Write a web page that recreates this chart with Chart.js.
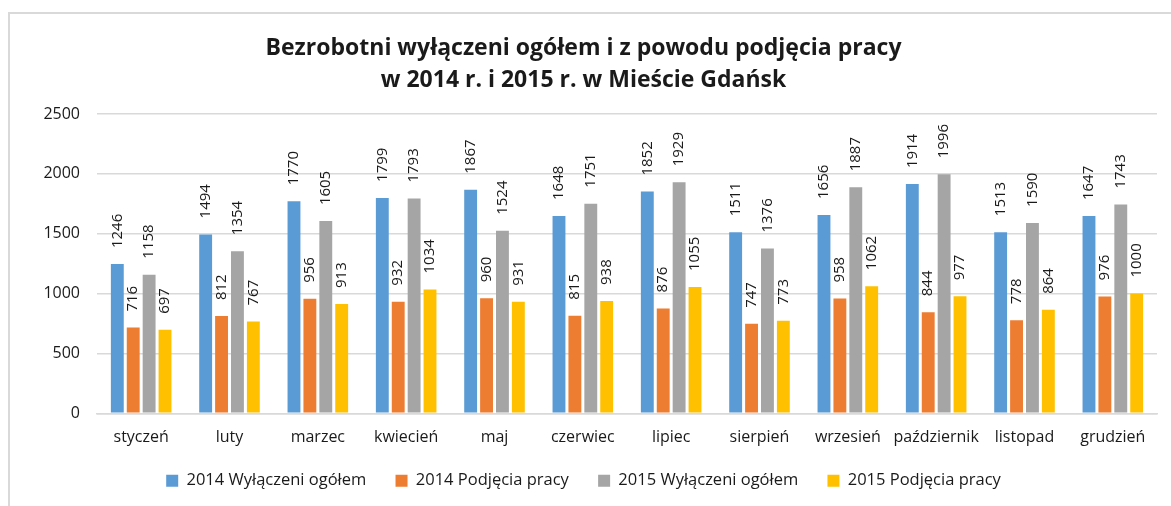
<!DOCTYPE html>
<html lang="pl">
  <head>
    <meta charset="UTF-8" />
    <title>Bezrobotni wyłączeni - Gdańsk</title>
    <style>
      body {
        margin: 0;
        background: #ffffff;
        width: 1171px;
        height: 506px;
        overflow: hidden;
      }
      .frame {
        position: absolute;
        left: 8px;
        top: 12px;
        width: 1200px;
        height: 520px;
        border-left: 2px solid #d9d9d9;
        border-top: 2px solid #d9d9d9;
      }
      .chart-box {
        position: absolute;
        left: 10px;
        top: 14px;
        width: 1161px;
        height: 485px;
      }
    </style>
  </head>
  <body>
    <div class="frame"></div>
    <div class="chart-box">
      <canvas id="gdanskChart"></canvas>
    </div>
    <script src="https://cdn.jsdelivr.net/npm/chart.js"></script>
    <script>
      const months = [
        "styczeń", "luty", "marzec", "kwiecień", "maj", "czerwiec",
        "lipiec", "sierpień", "wrzesień", "październik", "listopad", "grudzień",
      ];
      const wylaczeni2014 = [1246, 1494, 1770, 1799, 1867, 1648, 1852, 1511, 1656, 1914, 1513, 1647];
      const podjecia2014 = [716, 812, 956, 932, 960, 815, 876, 747, 958, 844, 778, 976];
      const wylaczeni2015 = [1158, 1354, 1605, 1793, 1524, 1751, 1929, 1376, 1887, 1996, 1590, 1743];
      const podjecia2015 = [697, 767, 913, 1034, 931, 938, 1055, 773, 1062, 977, 864, 1000];
      const seriesNames = [
        "2014 Wyłączeni ogółem",
        "2014 Podjęcia pracy",
        "2015 Wyłączeni ogółem",
        "2015 Podjęcia pracy",
      ];
      const seriesColors = ["#5b9bd5", "#ed7d31", "#a5a5a5", "#ffc000"];
      const titleLines = [
        "Bezrobotni wyłączeni ogółem i z powodu podjęcia pracy",
        "w 2014 r. i 2015 r. w Mieście Gdańsk",
      ];

      const fontName = "'Open Sans', sans-serif";

      // rotated value labels above each bar
      const barValueLabels = {
        id: "barValueLabels",
        afterDatasetsDraw(chart) {
          const ctx = chart.ctx;
          ctx.save();
          ctx.font = "15px " + fontName;
          ctx.fillStyle = "#1a1a1a";
          ctx.textAlign = "left";
          ctx.textBaseline = "middle";
          chart.data.datasets.forEach((ds, i) => {
            chart.getDatasetMeta(i).data.forEach((bar, j) => {
              ctx.save();
              ctx.translate(bar.x, bar.y - 16);
              ctx.rotate(-Math.PI / 2);
              ctx.fillText(String(ds.data[j]), 0, 0);
              ctx.restore();
            });
          });
          ctx.restore();
        },
      };

      const allSeries = [wylaczeni2014, podjecia2014, wylaczeni2015, podjecia2015];

      new Chart(document.getElementById("gdanskChart"), {
        type: "bar",
        data: {
          labels: months,
          datasets: allSeries.map((values, i) => ({
            label: seriesNames[i],
            data: values,
            backgroundColor: seriesColors[i],
            borderWidth: 0,
            barPercentage: 0.81,
            categoryPercentage: 0.72,
          })),
        },
        options: {
          responsive: true,
          maintainAspectRatio: false,
          animation: false,
          layout: { padding: { left: 0, right: 14, bottom: 0 } },
          plugins: {
            title: {
              display: true,
              text: titleLines,
              color: "#1a1a1a",
              font: { family: fontName, size: 23, weight: "bold", lineHeight: 1.39 },
              padding: { top: 18, bottom: 18 },
            },
            legend: {
              position: "bottom",
              labels: {
                boxWidth: 12,
                boxHeight: 12,
                padding: 10,
                color: "#1a1a1a",
                font: { family: fontName, size: 16.5 },
                // wider gap between items without a taller legend
                generateLabels(chart) {
                  const items = Chart.defaults.plugins.legend.labels.generateLabels(chart);
                  items.forEach((item, i) => {
                    if (i < items.length - 1) item.text += "\u2003\u2009";
                  });
                  return items;
                },
              },
            },
            tooltip: { enabled: false },
          },
          scales: {
            x: {
              grid: { display: false, drawTicks: false },
              border: { color: "#d9d9d9", width: 1.5 },
              ticks: {
                padding: 15,
                color: "#1a1a1a",
                font: { family: fontName, size: 16 },
                maxRotation: 0,
                autoSkip: false,
              },
            },
            y: {
              min: 0,
              max: 2500,
              afterFit(scale) {
                scale.width = 87;
              },
              grid: { color: "#d9d9d9", lineWidth: 1.5, drawTicks: false },
              border: { display: false },
              ticks: {
                stepSize: 500,
                padding: 17,
                color: "#1a1a1a",
                font: { family: fontName, size: 16 },
                callback: (v) => String(v),
              },
            },
          },
        },
        plugins: [barValueLabels],
      });
    </script>
  </body>
</html>
